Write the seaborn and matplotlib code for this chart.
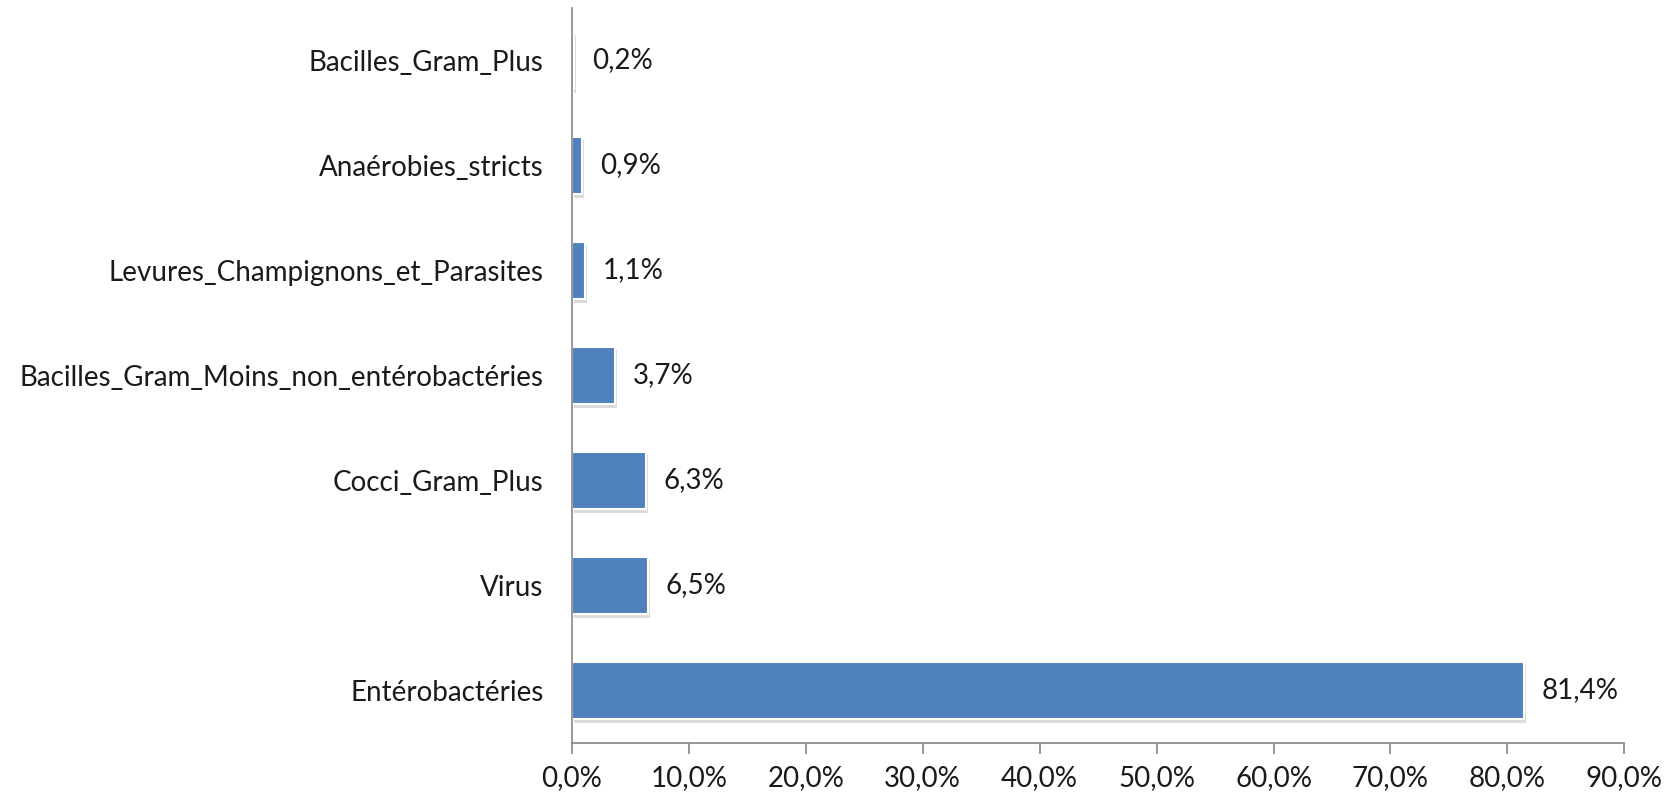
import matplotlib
matplotlib.use('Agg')
import matplotlib.pyplot as plt
import matplotlib.patheffects as pe
from matplotlib.ticker import FuncFormatter
import seaborn as sns
import pandas as pd

# Dane: kategorie i udział procentowy
kategorie = ['Bacilles_Gram_Plus', 'Anaérobies_stricts', 'Levures_Champignons_et_Parasites',
             'Bacilles_Gram_Moins_non_entérobactéries', 'Cocci_Gram_Plus', 'Virus', 'Entérobactéries']
procenty = [0.2, 0.9, 1.1, 3.7, 6.3, 6.5, 81.4]

df = pd.DataFrame({'kategoria': kategorie, 'procent': procenty})

sns.set_style('white')
plt.rcParams['font.family'] = ['Lato', 'DejaVu Sans']

fig = plt.figure(figsize=(16.77, 7.95), dpi=100)
ax = fig.add_axes([0.341, 0.0654, 0.6276, 0.9246])

sns.barplot(data=df, x='procent', y='kategoria', orient='h', color='#4F81BD',
            saturation=1, width=0.55, ax=ax)

for p in ax.patches:
    p.set_edgecolor('white')
    p.set_linewidth(1.5)
    p.set_path_effects([pe.SimplePatchShadow(offset=(1.5, -2.5), shadow_rgbFace='#999999', alpha=0.35),
                        pe.Normal()])

ax.bar_label(ax.containers[0], labels=[f'{v:.1f}%'.replace('.', ',') for v in procenty],
             padding=13, fontsize=20, color='#1a1a1a')

ax.set_xlim(0, 90)
ax.set_ylim(6.5, -0.5)
ax.set_xticks(range(0, 91, 10))
ax.xaxis.set_major_formatter(FuncFormatter(lambda v, _: f'{v:.1f}%'.replace('.', ',')))
ax.set_xlabel('')
ax.set_ylabel('')

for s in ['top', 'right']:
    ax.spines[s].set_visible(False)
for s in ['left', 'bottom']:
    ax.spines[s].set_color('#868686')
    ax.spines[s].set_linewidth(1.2)

ax.tick_params(axis='x', bottom=True, direction='out', length=8, width=1.2, color='#868686',
               labelsize=20, labelcolor='#1a1a1a', pad=8)
ax.tick_params(axis='y', left=False, labelsize=20, labelcolor='#1a1a1a', pad=17)

fig.savefig('out.png', dpi=100)
